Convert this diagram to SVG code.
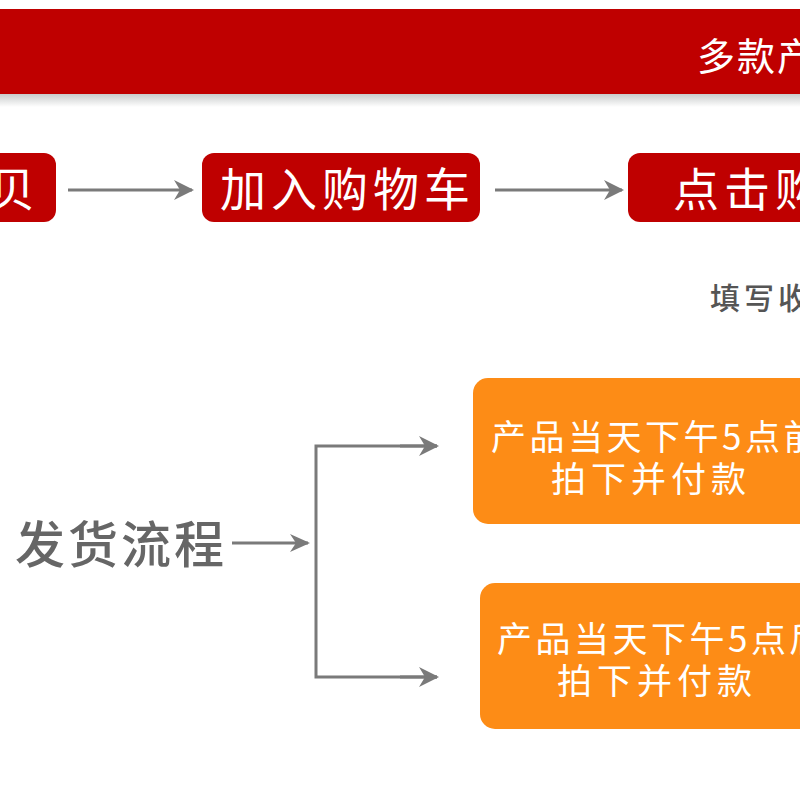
<svg xmlns="http://www.w3.org/2000/svg" width="800" height="800" viewBox="0 0 800 800">
  <defs>
    <linearGradient id="shadow" x1="0" y1="0" x2="0" y2="1">
      <stop offset="0" stop-color="#c9cccc"/>
      <stop offset="1" stop-color="#ffffff"/>
    </linearGradient>
    <marker id="arr" viewBox="0 0 20 20" refX="18" refY="10" markerWidth="20" markerHeight="20" markerUnits="userSpaceOnUse" orient="auto">
      <path d="M0,0 L20,10 L0,20 L6,10 Z" fill="#7a7a7a"/>
    </marker>
    <marker id="arrS" viewBox="0 0 20 20" refX="18" refY="10" markerWidth="22" markerHeight="20" markerUnits="userSpaceOnUse" orient="auto">
      <path d="M0,1 L20,10 L0,19 L6,10 Z" fill="#7a7a7a"/>
    </marker>
  </defs>
  <style>
    text { font-family: "Noto Sans CJK SC", "Noto Sans", sans-serif; }
    .red { fill: #bf0000; }
    .org { fill: #fd8c16; }
    .wt { fill: #ffffff; }
    .big { font-size: 46px; letter-spacing: 5px; }
    .otxt { font-size: 35px; }
    .conn { stroke: #7a7a7a; stroke-width: 3; fill: none; }
  </style>
  <rect width="800" height="800" fill="#ffffff"/>

  <g id="banner">
    <rect x="0" y="94" width="800" height="13" fill="url(#shadow)"/>
    <rect x="0" y="9" width="800" height="85" class="red"/>
    <text x="697" y="70" class="wt" font-size="38" letter-spacing="2">多款产</text>
  </g>

  <g id="node-baobei">
    <rect x="-20" y="153" width="76" height="69" rx="12" class="red"/>
    <text x="40" y="206" class="wt big" text-anchor="end" letter-spacing="0">贝</text>
  </g>
  <g id="node-cart">
    <rect x="202" y="153" width="278" height="69" rx="12" class="red"/>
    <text x="220" y="206" class="wt big">加入购物车</text>
  </g>
  <g id="node-click">
    <rect x="628" y="153" width="200" height="69" rx="12" class="red"/>
    <text x="673" y="206" class="wt big" letter-spacing="6">点击购</text>
  </g>
  <g id="label-fill">
    <text x="710" y="309" fill="#555555" font-size="30" font-weight="500" letter-spacing="4">填写收</text>
  </g>
  <g id="label-ship">
    <text x="15" y="563" fill="#666666" font-size="50" font-weight="500" letter-spacing="3">发货流程</text>
  </g>
  <g id="node-before5">
    <rect x="473" y="378" width="360" height="146" rx="15" class="org"/>
    <text x="491" y="450" class="wt otxt" letter-spacing="3.5">产品当天下午5点前</text>
    <text x="551" y="492" class="wt otxt" letter-spacing="5">拍下并付款</text>
  </g>
  <g id="node-after5">
    <rect x="480" y="583" width="360" height="146" rx="15" class="org"/>
    <text x="497" y="652" class="wt otxt" letter-spacing="3.5">产品当天下午5点后</text>
    <text x="557" y="694" class="wt otxt" letter-spacing="5">拍下并付款</text>
  </g>

  <g id="connectors">
    <line x1="68" y1="190" x2="192" y2="190" class="conn" marker-end="url(#arr)"/>
    <line x1="495" y1="190" x2="622" y2="190" class="conn" marker-end="url(#arr)"/>
    <line x1="232" y1="543" x2="308" y2="543" class="conn" marker-end="url(#arrS)"/>
    <polyline points="437,446 316,446 316,677 437,677" class="conn"/>
    <line x1="400" y1="446" x2="437" y2="446" class="conn" marker-end="url(#arr)"/>
    <line x1="400" y1="677" x2="437" y2="677" class="conn" marker-end="url(#arr)"/>
  </g>
</svg>
